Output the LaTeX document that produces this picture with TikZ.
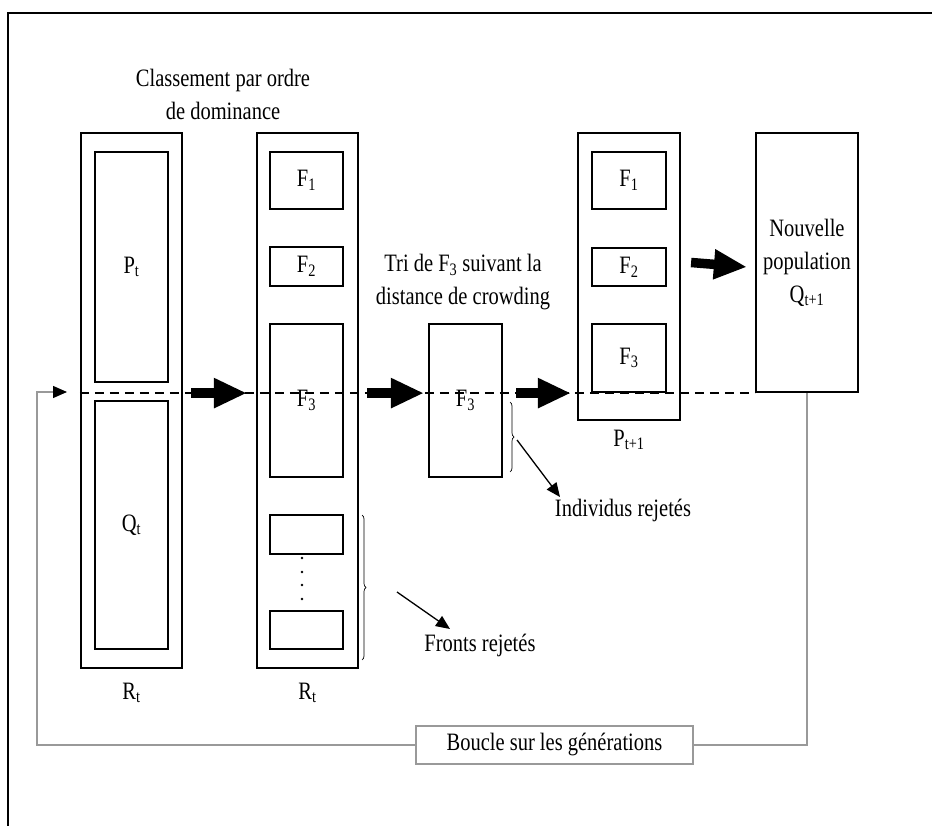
\documentclass[tikz,border=0pt]{standalone}
\usepackage{fontspec}
\setmainfont{Liberation Serif}[FakeStretch=0.82]
\usetikzlibrary{arrows.meta,calc,decorations.pathreplacing}

\begin{document}
\begin{tikzpicture}[x=1pt,y=-1pt,
  txt/.style={font=\fontsize{25}{33}\selectfont, inner sep=0pt, align=center},
  heavybox/.style={draw, line width=2.2pt, inner sep=0pt, txt},
  lightbox/.style={draw, line width=1.3pt, inner sep=0pt, txt},
  midbox/.style={draw, line width=1.7pt, inner sep=0pt, txt},
  bigarrow/.style={line width=9.5pt, -{Triangle[length=33pt,width=28pt]}},
  thinarrow/.style={line width=1.3pt, -{Triangle[length=14pt,width=12pt]}},
  flowline/.style={line width=1.7pt, dash pattern=on 9pt off 6pt},
  loopline/.style={draw=black!40, line width=1.3pt},
  rejbrace/.style={decorate, decoration={brace, amplitude=4pt}, line width=0.7pt}]
  \useasboundingbox (0,0) rectangle (932,826);

  % page frame
  \draw[line width=2.5pt] (8,826) -- (8,13) -- (932,13);

  % combined population R_t = P_t + Q_t
  \node[heavybox, minimum width=101pt, minimum height=535pt] (rt1) at (131.5,400.5) {};
  \node[lightbox, minimum width=73pt, minimum height=230pt] (pt) at (131.5,267) {P\textsubscript{t}};
  \node[lightbox, minimum width=73pt, minimum height=248pt] (qt) at (131.5,525) {Q\textsubscript{t}};
  \node[txt] (rtlab1) at (131.5,693) {R\textsubscript{t}};

  % non-dominated sorting into fronts
  \node[txt] (cls) at (223,94) {Classement par ordre\\de dominance};
  \node[heavybox, minimum width=101pt, minimum height=535pt] (rt2) at (307.5,400.5) {};
  \node[heavybox, minimum width=73pt, minimum height=57pt] (f1a) at (306.5,180.5) {F\textsubscript{1}};
  \node[midbox, minimum width=73pt, minimum height=39pt] (f2a) at (306.5,266.5) {F\textsubscript{2}};
  \node[midbox, minimum width=73pt, minimum height=153pt] (f3a) at (306.5,400.5) {F\textsubscript{3}};
  \node[heavybox, minimum width=73pt, minimum height=39pt] (rja) at (306.5,534.5) {};
  \node[heavybox, minimum width=73pt, minimum height=38pt] (rjb) at (306.5,630) {};
  \foreach \yy in {558,572,585,599} \fill (302,\yy) circle (1.3pt);
  \node[txt] (rtlab2) at (307.5,693) {R\textsubscript{t}};

  % crowding distance sort of F_3
  \node[txt] (tri) at (463,282) {Tri de F\textsubscript{3} suivant la\\distance de crowding};
  \node[heavybox, minimum width=73pt, minimum height=153pt] (f3m) at (465.5,400.5) {F\textsubscript{3}};

  % next parent population
  \node[heavybox, minimum width=102pt, minimum height=287pt] (pt1) at (629,276.5) {};
  \node[heavybox, minimum width=74pt, minimum height=57pt] (f1b) at (629,180.5) {F\textsubscript{1}};
  \node[lightbox, minimum width=74pt, minimum height=38pt] (f2b) at (629,267) {F\textsubscript{2}};
  \node[lightbox, minimum width=74pt, minimum height=68pt] (f3b) at (629,358) {F\textsubscript{3}};
  \node[txt] (ptlab) at (629,440) {P\textsubscript{t+1}};

  % offspring population
  \node[heavybox, minimum width=102pt, minimum height=259pt] (np) at (807,262.5)
    {Nouvelle\\population\\Q\textsubscript{t+1}};

  % dashed cut line
  \draw[flowline] (rt1.west |- np.south) -- (np.south west);

  % block arrows between stages
  \draw[bigarrow] ($(rt1.east |- np.south)+(8,0)$) -- ($(rt2.west |- np.south)+(-9,0)$);
  \draw[bigarrow] ($(rt2.east |- np.south)+(8,0)$) -- ($(f3m.west |- np.south)+(-4,0)$);
  \draw[bigarrow] ($(f3m.east |- np.south)+(13,0)$) -- ($(pt1.west |- np.south)+(-6,0)$);
  \draw[bigarrow] ($(pt1.east |- np)+(10,0)$) -- ($(np.west)+(-8,4.5)$);

  % rejected fronts
  \draw[rejbrace] (362,515) -- (362,660);
  \node[txt] (fr) at (480,645) {Fronts rejetés};
  \coordinate (frs) at (397,592);
  \coordinate (fre) at (450,629);
  \draw[thinarrow] (frs) -- (fre);

  % rejected individuals
  \draw[rejbrace] (510,402) -- (510,472);
  \node[txt] (ir) at (623,510) {Individus rejetés};
  \coordinate (irs) at (517,440);
  \coordinate (ire) at (560,497);
  \draw[thinarrow] (irs) -- (ire);

  % generation loop
  \node[draw=black!40, line width=1.3pt, txt, minimum width=277pt, minimum height=38pt]
    (boucle) at (554.5,745) {Boucle sur les générations};
  \coordinate (lc) at (37,392);
  \coordinate (tip) at (67,392);
  \draw[loopline] (np.south) |- (boucle.east);
  \draw[loopline, -{Triangle[length=14pt,width=12pt,color=black]}] (boucle.west) -| (lc) -- (tip);
\end{tikzpicture}
\end{document}
